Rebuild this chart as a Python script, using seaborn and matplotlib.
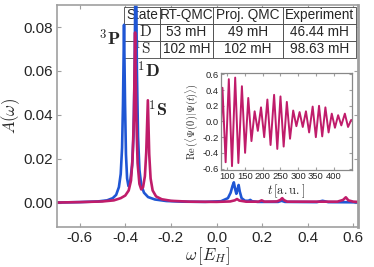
import matplotlib
matplotlib.use("Agg")
import matplotlib.pyplot as plt
import seaborn as sns

# spectral function A(omega)
blue_w = [-0.70, -0.60, -0.52, -0.48, -0.455, -0.44, -0.428, -0.420, -0.414, -0.410,
          -0.4055, -0.401, -0.397, -0.392, -0.386, -0.378, -0.370, -0.364, -0.359, -0.354,
          -0.349, -0.344, -0.338, -0.330, -0.318, -0.300, -0.27, -0.22, -0.15, -0.05,
          0.02, 0.050, 0.062, 0.070, 0.076, 0.082, 0.087, 0.092, 0.097, 0.102,
          0.110, 0.125, 0.140, 0.148, 0.156, 0.180, 0.27, 0.285, 0.30, 0.44,
          0.465, 0.49, 0.62]
blue_a = [0.0000, 0.0002, 0.0005, 0.0010, 0.0020, 0.0035, 0.0070, 0.0130, 0.0250, 0.0450,
          0.0810, 0.0450, 0.0220, 0.0110, 0.0075, 0.0100, 0.0170, 0.0300, 0.0600, 0.1200,
          0.0600, 0.0300, 0.0150, 0.0080, 0.0045, 0.0025, 0.0014, 0.0007, 0.0004, 0.0003,
          0.0006, 0.0020, 0.0045, 0.0075, 0.0092, 0.0060, 0.0040, 0.0060, 0.0080, 0.0050,
          0.0020, 0.0008, 0.0008, 0.0012, 0.0006, 0.0003, 0.0003, 0.0008, 0.0003, 0.0002,
          0.0008, 0.0002, 0.0001]

mag_w = [-0.70, -0.60, -0.50, -0.45, -0.42, -0.40, -0.385, -0.375, -0.368, -0.362,
         -0.357, -0.352, -0.346, -0.338, -0.330, -0.322, -0.314, -0.308, -0.301, -0.295,
         -0.289, -0.280, -0.265, -0.24, -0.20, -0.12, 0.00, 0.06, 0.080, 0.090,
         0.100, 0.13, 0.185, 0.198, 0.21, 0.265, 0.280, 0.288, 0.296, 0.31,
         0.53, 0.555, 0.567, 0.578, 0.60, 0.62]
mag_a = [0.0000, 0.0002, 0.0005, 0.0010, 0.0020, 0.0032, 0.0055, 0.0100, 0.0200, 0.0400,
         0.0775, 0.0400, 0.0180, 0.0085, 0.0060, 0.0070, 0.0120, 0.0230, 0.0466, 0.0220,
         0.0110, 0.0055, 0.0028, 0.0015, 0.0008, 0.0004, 0.0003, 0.0005, 0.0010, 0.0016,
         0.0009, 0.0004, 0.0004, 0.0010, 0.0004, 0.0005, 0.0012, 0.0020, 0.0011, 0.0004,
         0.0004, 0.0012, 0.0024, 0.0010, 0.0004, 0.0003]

# inset: Re<Psi(0)|Psi(t)>, turning points
t_vals = [82, 86, 95, 104, 113, 122, 131, 141, 150, 159, 168, 177, 186, 195, 204,
          213, 222, 232, 241, 250, 259, 268, 277, 286, 295, 304, 313, 322, 331,
          341, 350, 359, 368, 377, 386, 395, 404, 413, 422, 432, 441, 450]
re_vals = [-0.05, 0.43, -0.52, 0.54, -0.57, 0.56, -0.53, 0.45, -0.40, 0.30, -0.25,
           0.13, -0.12, 0.18, -0.20, 0.28, -0.30, 0.34, -0.35, 0.32, -0.32, 0.25,
           -0.22, 0.14, -0.06, 0.12, -0.07, 0.13, -0.14, 0.19, -0.20, 0.20, -0.19,
           0.18, -0.14, 0.10, -0.08, 0.08, -0.05, 0.10, -0.07, 0.02]

table_cols = ["State", "RT-QMC", "Proj. QMC", "Experiment"]
table_rows = [[r"$^1\mathrm{D}$", "53 mH", "49 mH", "46.44 mH"],
              [r"$^1\mathrm{S}$", "102 mH", "102 mH", "98.63 mH"]]

blue = "#1f56d4"
magenta = "#c01c6a"
gray = "#a0a0a0"

sns.set_style("ticks")
plt.rcParams['font.family'] = ['Liberation Sans', 'DejaVu Sans']
plt.rcParams['mathtext.fontset'] = 'cm'
plt.rcParams['axes.unicode_minus'] = False

fig = plt.figure(figsize=(3.74, 2.67), dpi=100)
ax = fig.add_axes([0.152, 0.151, 0.805, 0.830])

sns.lineplot(x=blue_w, y=blue_a, ax=ax, color=blue, linewidth=1.9)
sns.lineplot(x=mag_w, y=mag_a, ax=ax, color=magenta, linewidth=1.9)

ax.set_xlim(-0.7, 0.62)
ax.set_ylim(-0.011, 0.09)
ax.set_xticks([-0.6, -0.4, -0.2, 0.0, 0.2, 0.4, 0.6])
ax.set_xticklabels(["%.1f" % v for v in [-0.6, -0.4, -0.2, 0.0, 0.2, 0.4, 0.6]])
ax.set_yticks([0.0, 0.02, 0.04, 0.06, 0.08])
ax.set_yticklabels(["%.2f" % v for v in [0.0, 0.02, 0.04, 0.06, 0.08]])
ax.tick_params(direction="in", length=3, color=gray, labelsize=11, pad=3,
               top=True, right=True)
for side, sp in ax.spines.items():
    sp.set_color(gray)
    sp.set_linewidth(2.0 if side == "right" else 1.2)
ax.set_xlabel(r"$\omega\,[E_H]$", fontsize=12, labelpad=0)
ax.set_ylabel(r"$A(\omega)$", fontsize=12, labelpad=1)

ax.text(-0.467, 0.0746, r"$^{3}\mathbf{P}$", fontsize=13, ha="center", va="center")
ax.text(-0.300, 0.0600, r"$^{1}\mathbf{D}$", fontsize=13, ha="center", va="center")
ax.text(-0.256, 0.0420, r"$^{1}\mathbf{S}$", fontsize=13, ha="center", va="center")

tbl = ax.table(cellText=table_rows, colLabels=table_cols, cellLoc="center",
               bbox=[0.223, 0.763, 0.770, 0.230])
tbl.auto_set_font_size(False)
tbl.set_fontsize(9.8)
widths = [36, 53, 70, 73]
for (r, c), cell in tbl.get_celld().items():
    cell.set_width(widths[c] / 232 * 0.770)
    cell.set_edgecolor("#444444")
    cell.set_linewidth(0.6)
    cell.set_facecolor("white")
    if c == 0 and r > 0:
        cell.get_text().set_fontsize(11)
tbl.set_zorder(1)

ins = fig.add_axes([0.591, 0.363, 0.350, 0.364])
sns.lineplot(x=t_vals, y=re_vals, ax=ins, color=magenta, linewidth=1.4,
             solid_joinstyle="round")
ins.set_xlim(82, 452)
ins.set_ylim(-0.62, 0.62)
ins.set_xticks([100, 150, 200, 250, 300, 350, 400])
ins.set_yticks([-0.6, -0.4, -0.2, 0.0, 0.2, 0.4, 0.6])
ins.set_yticklabels(["%.1f" % v for v in [-0.6, -0.4, -0.2, 0.0, 0.2, 0.4, 0.6]])
ins.tick_params(direction="in", length=2.5, color=gray, labelsize=6.8, pad=1.5,
                top=True, right=True)
for sp in ins.spines.values():
    sp.set_color("#888888")
    sp.set_linewidth(0.9)
ins.set_xlabel(r"$t\,[\mathrm{a.u.}]$", fontsize=9, labelpad=1)
ins.set_ylabel(r"$\mathrm{Re}\,(\langle\Psi(0)|\Psi(t)\rangle)$", fontsize=7.5, labelpad=2)

fig.savefig("out.png", dpi=100)
